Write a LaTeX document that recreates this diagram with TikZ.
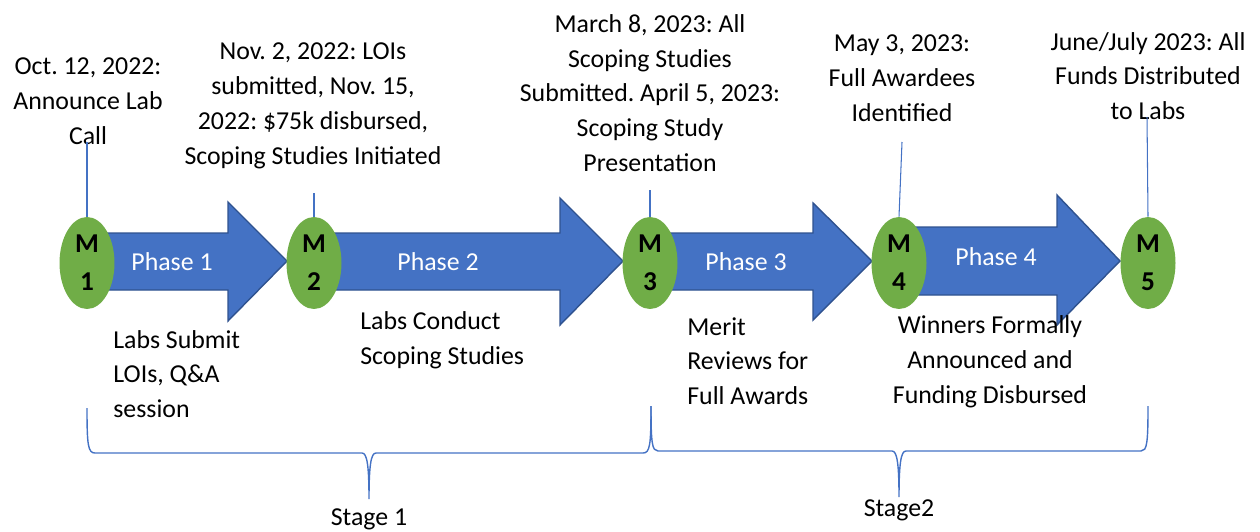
\documentclass[tikz,border=0pt]{standalone}
\usepackage{fontspec}
\setmainfont{Carlito}
\usepackage{tikz}
\usetikzlibrary{shapes.geometric}
\definecolor{phaseblue}{HTML}{4472C4}
\definecolor{phaseedge}{HTML}{2F528F}
\definecolor{mgreen}{HTML}{70AD47}
\frenchspacing

\begin{document}
\begin{tikzpicture}[x=0.02cm, y=-0.02cm,
    phasearrow/.style={fill=phaseblue, draw=phaseedge, line width=0.8pt, line join=miter},
    milestone/.style={ellipse, fill=mgreen, inner sep=0, minimum width=1.1cm,
      minimum height=1.84cm, align=center, font=\fontsize{15.5}{21.5}\selectfont\bfseries},
    phaselabel/.style={white, font=\fontsize{14.7}{19.8}\selectfont},
    note/.style={inner sep=0, align=center, font=\fontsize{14.7}{19.8}\selectfont},
    link/.style={phaseblue, line width=0.6pt},
    brace/.style={phaseblue, line width=0.8pt}]

  \useasboundingbox (0, 0) rectangle (1260, 531);

  % phase arrows: shaft start / head start / tip / shaft top / shaft bottom / head top / head bottom
  \foreach \xs/\xh/\xt/\st/\sb/\ht/\hb in {105/228/287/233/290/202/321,
      330/560/623/233/290/198/325, 665/813/872/233/290/203/320,
      915/1057/1120/227/295/195/325} {
    \draw[phasearrow] (\xs, \st) -- (\xh, \st) -- (\xh, \ht) -- (\xt, 261)
      -- (\xh, \hb) -- (\xh, \sb) -- (\xs, \sb) -- cycle;
  }

  \node[phaselabel] (p1) at (172, 262) {Phase 1};
  \node[phaselabel] (p2) at (438, 262) {Phase 2};
  \node[phaselabel] (p3) at (746, 262) {Phase 3};
  \node[phaselabel] (p4) at (996, 257) {Phase 4};

  % milestones
  \foreach \i/\x in {1/87, 2/314, 3/650, 4/899, 5/1148} {
    \node[milestone] (m\i) at (\x, 263) {M\\\i};
  }

  % dates above
  \node[note] (t1) at (88, 101) {Oct. 12, 2022:\\Announce Lab\\Call};
  \node[note] (t2) at (313, 106) {Nov. 2, 2022: LOIs\\submitted, Nov. 15,\\2022: \$75k disbursed,\\Scoping Studies Initiated};
  \node[note] (t3) at (650, 93) {March 8, 2023: All\\Scoping Studies\\Submitted. April 5, 2023:\\Scoping Study\\Presentation};
  \node[note] (t4) at (902, 78) {May 3, 2023:\\Full Awardees\\Identified};
  \node[note] (t5) at (1148, 76) {June/July 2023: All\\Funds Distributed\\to Labs};

  \coordinate (c1) at (87, 142);
  \coordinate (c2) at (314, 193);
  \coordinate (c3) at (650, 190);
  \coordinate (c4) at (902, 142);
  \coordinate (c5) at (1147, 117);
  \foreach \i in {1, ..., 5} {
    \draw[link] (m\i.north) -- (c\i);
  }

  % tasks below
  \node[note, align=left, anchor=west] (b1) at (113, 374) {Labs Submit\\LOIs, Q\&A\\session};
  \node[note, align=left, anchor=west] (b2) at (360, 340) {Labs Conduct\\Scoping Studies};
  \node[note, align=left, anchor=west] (b3) at (687, 361) {Merit\\Reviews for\\Full Awards};
  \node[note] (b4) at (990, 362) {Winners Formally\\Announced and\\Funding Disbursed};

  % stages
  \draw[brace] (87, 408) .. controls (87, 445) and (88, 453) .. (95, 453) -- (362, 453)
    .. controls (367, 453) and (369, 465) .. (369, 499)
    .. controls (369, 465) and (371, 453) .. (376, 453) -- (643, 453)
    .. controls (650, 453) and (651, 445) .. (651, 406);
  \draw[brace] (651, 406) .. controls (651, 443) and (652, 451) .. (658, 451) -- (892, 451)
    .. controls (897, 451) and (899, 463) .. (899, 497)
    .. controls (899, 463) and (901, 451) .. (906, 451) -- (1141, 451)
    .. controls (1147, 451) and (1148, 443) .. (1148, 406);

  \node[note] (s1) at (369, 519) {Stage 1};
  \node[note] (s2) at (899, 510) {Stage2};

\end{tikzpicture}
\end{document}
